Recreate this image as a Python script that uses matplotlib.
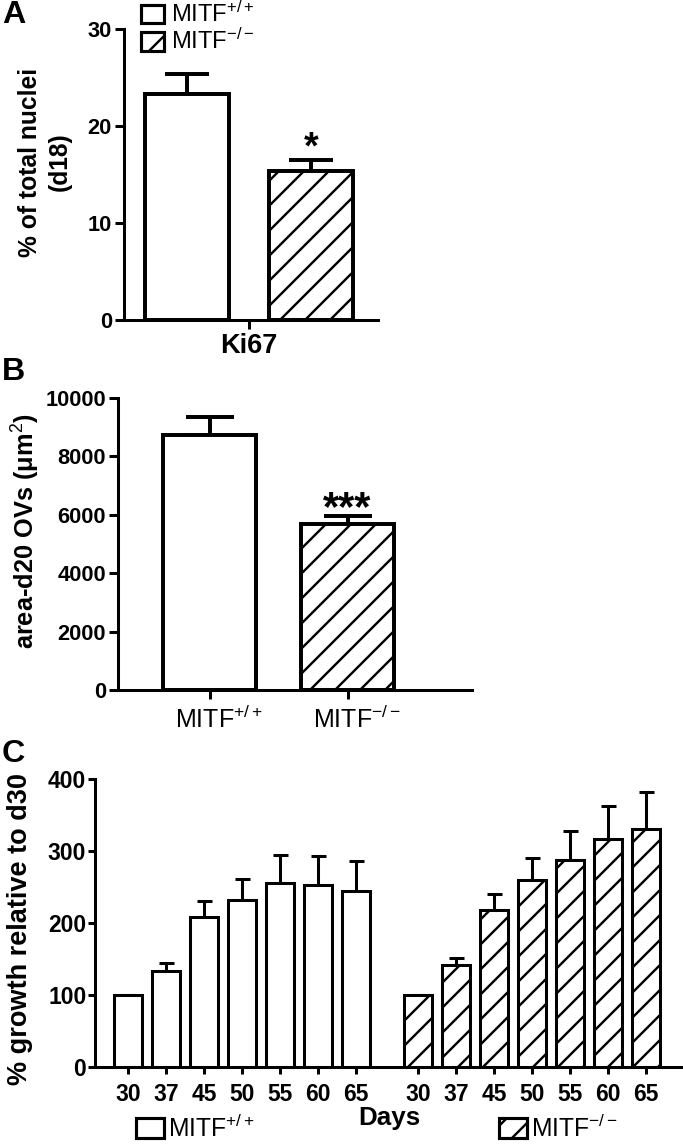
import numpy as np
import matplotlib
matplotlib.use('Agg')
import matplotlib.pyplot as plt
import matplotlib.transforms as mtransforms
from matplotlib.patches import Patch

plt.rcParams['font.family'] = ['Liberation Sans', 'DejaVu Sans']
plt.rcParams['mathtext.fontset'] = 'custom'
plt.rcParams['mathtext.rm'] = 'Liberation Sans'
plt.rcParams['mathtext.it'] = 'Liberation Sans:italic'
plt.rcParams['mathtext.bf'] = 'Liberation Sans:bold'
plt.rcParams['hatch.linewidth'] = 1.15

# ---------------- data ----------------
genotypes = [r'MITF$^{+/+}$', r'MITF$^{-/-}$']
ki67_label = 'Ki67'
ki67_mean = [23.3, 15.4]
ki67_err = [2.1, 1.1]
ki67_sig = ['', '*']
area_mean = [8730, 5690]
area_err = [620, 270]
area_sig = ['', '***']
days = [30, 37, 45, 50, 55, 60, 65]
growth_wt = [100, 134, 209, 232, 255, 253, 244]
growth_wt_err = [0, 10, 22, 29, 39, 40, 42]
growth_ko = [100, 142, 218, 260, 287, 316, 331]
growth_ko_err = [0, 10, 22, 30, 41, 46, 51]
yticks_a = [0, 10, 20, 30]
yticks_b = [0, 2000, 4000, 6000, 8000, 10000]
yticks_c = [0, 100, 200, 300, 400]
hatches = ['', '//']

W, H = 683, 1144
DPI = 150
fig = plt.figure(figsize=(W / DPI, H / DPI), dpi=DPI)


def px_axes(l, t, r, b):
    return fig.add_axes([l / W, 1 - b / H, (r - l) / W, (b - t) / H])


def style(ax, lw, ticklen):
    for s in ['top', 'right']:
        ax.spines[s].set_visible(False)
    for s in ['left', 'bottom']:
        ax.spines[s].set_linewidth(lw)
    ax.tick_params(direction='out', width=lw, length=ticklen, color='black')


# ---------------- Panel A ----------------
axA = px_axes(124, 29, 378, 320)
style(axA, 1.45, 4.3)
xa = np.arange(len(ki67_mean))
barsA = axA.bar(xa, ki67_mean, width=0.677, color='white', edgecolor='black', linewidth=1.9, zorder=2)
for b, h in zip(barsA, hatches):
    b.set_hatch(h)
axA.errorbar(xa, ki67_mean, yerr=[np.zeros(len(ki67_err)), ki67_err], fmt='none', ecolor='black',
             elinewidth=1.9, capsize=10.5, capthick=1.9, zorder=1)
for x, m, e, s in zip(xa, ki67_mean, ki67_err, ki67_sig):
    if s:
        axA.annotate(s, xy=(x, m + e), xytext=(0, -3), textcoords='offset points', ha='center',
                     va='bottom', fontsize=18, fontweight='bold')
axA.set_xlim(-0.508, 1.54)
axA.set_ylim(0, 30)
axA.set_yticks(yticks_a)
axA.set_yticklabels([str(v) for v in yticks_a], fontsize=10.5, fontweight='bold')
axA.set_xticks([0.5])
axA.set_xticklabels([ki67_label], fontsize=13, fontweight='bold')
axA.tick_params(axis='x', pad=2)
axA.tick_params(axis='y', pad=1.5)
fig.text(45 / W, 1 - 162 / H, '% of total nuclei\n(d18)', rotation=90, ha='center', va='center',
         fontsize=11.8, fontweight='bold', multialignment='center', linespacing=1.3)
fig.legend(handles=[Patch(facecolor='white', edgecolor='black', linewidth=1.5, hatch=h) for h in hatches],
           labels=genotypes, loc='upper left', bbox_to_anchor=(141 / W, 1 - 2 / H), frameon=False,
           fontsize=11.4, handlelength=0.97, handleheight=0.85, handletextpad=0.3, labelspacing=0.08,
           borderpad=0, borderaxespad=0)

# ---------------- Panel B ----------------
axB = px_axes(118, 398, 472, 690)
style(axB, 1.45, 4.3)
xb = np.arange(len(area_mean))
barsB = axB.bar(xb, area_mean, width=0.667, color='white', edgecolor='black', linewidth=1.9, zorder=2)
for b, h in zip(barsB, hatches):
    b.set_hatch(h)
axB.errorbar(xb, area_mean, yerr=[np.zeros(len(area_err)), area_err], fmt='none', ecolor='black',
             elinewidth=1.9, capsize=11.5, capthick=1.9, zorder=1)
for x, m, e, s in zip(xb, area_mean, area_err, area_sig):
    if s:
        axB.annotate(s, xy=(x, m + e), xytext=(0, -6.5), textcoords='offset points', ha='center',
                     va='bottom', fontsize=20, fontweight='bold')
axB.set_xlim(-0.663, 1.902)
axB.set_ylim(0, 10000)
axB.set_yticks(yticks_b)
axB.set_yticklabels([str(v) for v in yticks_b], fontsize=10.5, fontweight='bold')
axB.set_xticks(xb)
axB.set_xticklabels(genotypes, fontsize=12)
axB.tick_params(axis='x', pad=3.5)
axB.tick_params(axis='y', pad=1.5)
shift = mtransforms.ScaledTranslation(9 / DPI, 0, fig.dpi_scale_trans)
for lbl in axB.get_xticklabels():
    lbl.set_transform(lbl.get_transform() + shift)
fig.text(26 / W, 1 - 531 / H, 'area-d20 OVs (μm$^{2}$)', rotation=90, ha='center', va='center',
         fontsize=12.2, fontweight='bold')

# ---------------- Panel C ----------------
axC = px_axes(95, 779, 683, 1067)
style(axC, 1.45, 3.2)
x1 = np.arange(len(days))
x2 = np.arange(len(days)) + len(days) + 0.63
for xs, mean, err, h in [(x1, growth_wt, growth_wt_err, hatches[0]), (x2, growth_ko, growth_ko_err, hatches[1])]:
    bars = axC.bar(xs, mean, width=0.72, color='white', edgecolor='black', linewidth=1.45, hatch=h, zorder=2)
    axC.errorbar(xs, mean, yerr=[np.zeros(len(err)), err], fmt='none', ecolor='black',
                 elinewidth=1.45, capsize=3.6, capthick=1.45, zorder=1)
axC.set_xlim(-0.87, 14.6)
axC.set_ylim(0, 400)
axC.set_yticks(yticks_c)
axC.set_yticklabels([str(v) for v in yticks_c], fontsize=11, fontweight='bold')
axC.set_xticks(np.concatenate([x1, x2]))
axC.set_xticklabels([str(d) for d in days] * 2, fontsize=11, fontweight='bold')
axC.tick_params(axis='x', pad=4.5)
axC.tick_params(axis='y', pad=1)
fig.text(20 / W, 1 - 929 / H, '% growth relative to d30', rotation=90, ha='center', va='center',
         fontsize=13, fontweight='bold')
fig.text(389 / W, 1 - 1118 / H, 'Days', ha='center', va='center', fontsize=12.5, fontweight='bold')
for label, h, xpos in zip(genotypes, hatches, [136, 499]):
    fig.legend(handles=[Patch(facecolor='white', edgecolor='black', linewidth=1.5, hatch=h)],
               labels=[label], loc='center left', bbox_to_anchor=(xpos / W, 1 - 1128 / H), frameon=False,
               fontsize=11.8, handlelength=1.15, handleheight=0.84, handletextpad=0.15,
               borderpad=0, borderaxespad=0)

# panel letters
for letter, ypx in [('A', 15), ('B', 372), ('C', 754)]:
    fig.text(2 / W, 1 - ypx / H, letter, ha='left', va='center', fontsize=15.5, fontweight='bold')

fig.savefig('out.png', dpi=DPI)
